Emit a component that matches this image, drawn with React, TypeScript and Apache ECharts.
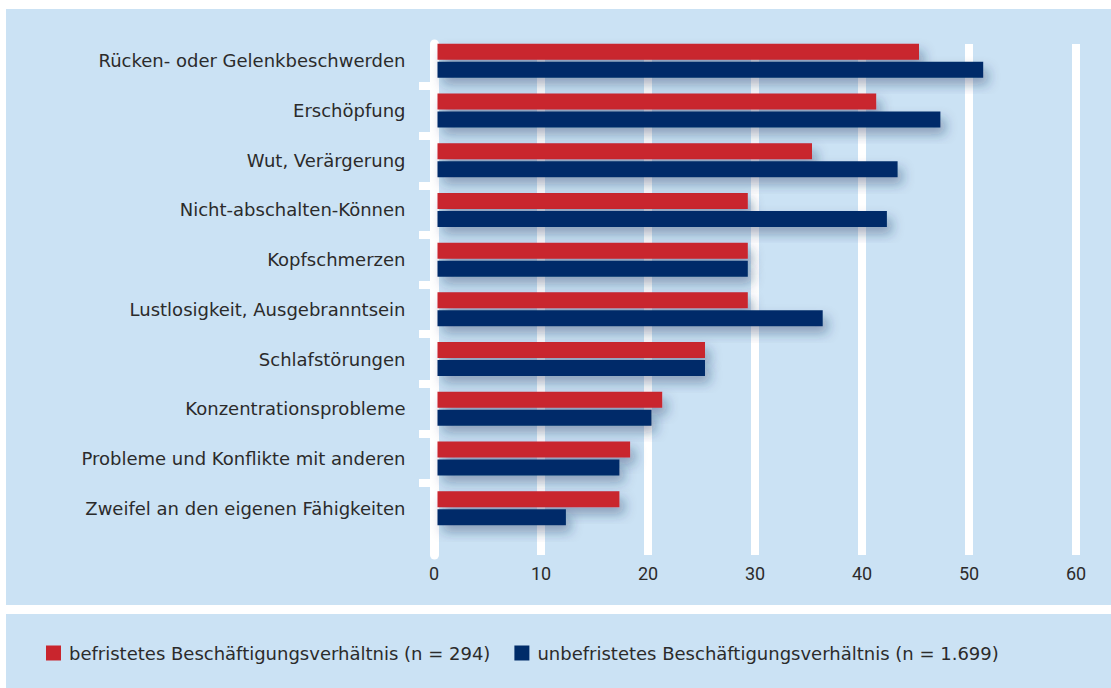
import React, { useEffect, useRef } from "react";
import * as echarts from "echarts";

const categories = [
  "Rücken- oder Gelenkbeschwerden",
  "Erschöpfung",
  "Wut, Verärgerung",
  "Nicht-abschalten-Können",
  "Kopfschmerzen",
  "Lustlosigkeit, Ausgebranntsein",
  "Schlafstörungen",
  "Konzentrationsprobleme",
  "Probleme und Konflikte mit anderen",
  "Zweifel an den eigenen Fähigkeiten",
];
const befristet = [45, 41, 35, 29, 29, 29, 25, 21, 18, 17];
const unbefristet = [51, 47, 43, 42, 29, 36, 25, 20, 17, 12];
const seriesNames = [
  "befristetes Beschäftigungsverhältnis (n = 294)",
  "unbefristetes Beschäftigungsverhältnis (n = 1.699)",
];
const xTicks = [0, 10, 20, 30, 40, 50, 60];
const boundaryTicks = ["", "", "", "", "", "", "", "", ""];

const FONT = "'DejaVu Sans', sans-serif";
const NUMFONT = "Roboto, 'Noto Sans', sans-serif";
const TEXT = "#2b2b2b";
const PANEL = "#cbe2f4";
const RED = "#c9252d";
const NAVY = "#002c69";

export default function App() {
  const ref = useRef<HTMLDivElement>(null);
  useEffect(() => {
    if (!ref.current) return;
    const chart = echarts.init(ref.current, undefined, { renderer: "svg" });
    const shadow = {
      shadowBlur: 12,
      shadowOffsetX: 5,
      shadowOffsetY: 7,
      shadowColor: "rgba(20,50,90,0.38)",
    };
    chart.setOption({
      animation: false,
      backgroundColor: PANEL,
      textStyle: { fontFamily: FONT },
      graphic: [
        { type: "rect", shape: { x: 0, y: 0, width: 1111, height: 9 }, style: { fill: "#fff" } },
        { type: "rect", shape: { x: 0, y: 0, width: 6, height: 688 }, style: { fill: "#fff" } },
        { type: "rect", shape: { x: 6, y: 605, width: 1105, height: 9 }, style: { fill: "#fff" } },
      ],
      legend: {
        left: 41,
        top: 639,
        itemWidth: 15,
        itemHeight: 15,
        itemGap: 24,
        icon: "rect",
        data: seriesNames,
        textStyle: { fontSize: 18, color: TEXT, fontFamily: FONT, padding: [0, 0, 0, 3] },
      },
      grid: [
        { left: 434, right: 35, top: 44, bottom: 133 },
        { left: 437.5, right: 31.5, top: 36, bottom: 155 },
        { left: 434, right: 35, top: 86, bottom: 205 },
      ],
      xAxis: [
        {
          gridIndex: 0,
          type: "value",
          min: xTicks[0],
          max: xTicks[xTicks.length - 1],
          interval: 10,
          axisLine: { show: false },
          axisTick: { show: false },
          splitLine: { show: true, lineStyle: { color: "#fff", width: 8 } },
          axisLabel: { fontSize: 18, color: TEXT, fontFamily: NUMFONT, margin: 9 },
        },
        { gridIndex: 1, type: "value", min: 0, max: 60, show: false },
        { gridIndex: 2, type: "value", min: 0, max: 60, show: false },
      ],
      yAxis: [
        {
          gridIndex: 0,
          type: "value",
          min: 0,
          max: 1,
          axisLine: { show: true, lineStyle: { color: "#fff", width: 9 } },
          axisTick: { show: false },
          axisLabel: { show: false },
          splitLine: { show: false },
        },
        {
          gridIndex: 1,
          type: "category",
          inverse: true,
          data: categories,
          axisLine: { show: false },
          axisTick: { show: false },
          axisLabel: { fontSize: 18, color: TEXT, fontFamily: FONT, margin: 32 },
        },
        {
          gridIndex: 2,
          type: "category",
          boundaryGap: false,
          data: boundaryTicks,
          axisLine: { show: false },
          axisLabel: { show: false },
          axisTick: { show: true, length: 15, lineStyle: { color: "#fff", width: 8 } },
        },
      ],
      series: [
        {
          name: seriesNames[0],
          type: "bar",
          xAxisIndex: 1,
          yAxisIndex: 1,
          data: befristet,
          barWidth: 16,
          barGap: "12.5%",
          itemStyle: { color: RED, ...shadow },
        },
        {
          name: seriesNames[1],
          type: "bar",
          xAxisIndex: 1,
          yAxisIndex: 1,
          data: unbefristet,
          barWidth: 16,
          barGap: "12.5%",
          itemStyle: { color: NAVY, ...shadow },
        },
      ],
    });
    return () => chart.dispose();
  }, []);
  return (
    <div
      ref={ref}
      style={{ position: "fixed", left: 0, top: 0, width: 1111, height: 688 }}
    />
  );
}
